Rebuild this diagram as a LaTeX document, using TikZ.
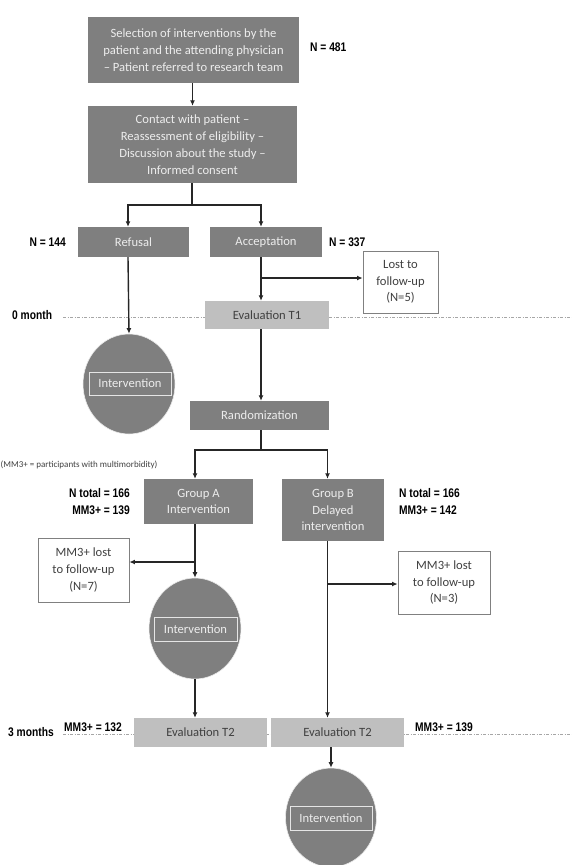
\documentclass[tikz,border=0pt]{standalone}
\usepackage{fontspec}
\setmainfont{Carlito}
\newfontfamily\nbold[FakeStretch=0.82]{Liberation Sans}
\usetikzlibrary{arrows.meta,shapes.geometric}
\definecolor{dg}{HTML}{7F7F7F}
\definecolor{lg}{HTML}{BFBFBF}
\definecolor{tw}{HTML}{EDEDED}
\definecolor{td}{HTML}{404040}
\definecolor{ln}{HTML}{A6A6A6}
\tikzset{
  dbox/.style={fill=dg, draw=none, text=tw, inner sep=0pt, align=center,
    font=\fontsize{12.6}{16.8}\selectfont},
  lbox/.style={fill=lg, draw=none, text=td, inner sep=0pt, align=center,
    font=\fontsize{12.6}{16.8}\selectfont},
  wbox/.style={fill=white, draw=gray, line width=0.9pt, text=td, inner sep=0pt, align=center,
    font=\fontsize{12.6}{16.8}\selectfont},
  circ/.style={ellipse, fill=dg, draw=white!85!dg, line width=0.6pt, inner sep=0pt},
  ibox/.style={draw=white!80!dg, line width=0.9pt, text=tw, inner sep=0pt,
    font=\fontsize{12.6}{14}\selectfont},
  lab/.style={inner sep=0pt, text=black, font=\nbold\bfseries\fontsize{12.5}{17}\selectfont, align=left},
  labr/.style={inner sep=0pt, text=black, font=\nbold\bfseries\fontsize{12.5}{17}\selectfont, align=right},
  arr/.style={-{Latex[length=5.5pt,width=5pt]}, line width=1.4pt, draw=black!85},
  ln/.style={line width=1.4pt, draw=black!85},
  tline/.style={draw=ln, line width=0.7pt, dash pattern=on 3pt off 1.5pt on 1pt off 1.5pt}
}
\begin{document}
\begin{tikzpicture}[x=1pt,y=-1pt]
\useasboundingbox (0,0) rectangle (572,865);

% time lines
\coordinate (t0s) at (63,317);
\coordinate (t0e) at (572,317);
\coordinate (t3s) at (63,734);
\coordinate (t3e) at (572,734);
\draw[tline] (t0s) -- (t0e);
\draw[tline] (t3s) -- (t3e);

% boxes
\node[dbox, minimum width=211pt, minimum height=66pt] (b1) at (193.5,50)
  {Selection of interventions by the\\patient and the attending physician\\– Patient referred to research team};
\node[dbox, minimum width=209pt, minimum height=77pt] (b2) at (192.5,144.5)
  {Contact with patient –\\Reassessment of eligibility –\\Discussion about the study –\\Informed consent};
\node[dbox, minimum width=111pt, minimum height=30pt] (ref) at (133.5,242) {Refusal};
\node[dbox, minimum width=112pt, minimum height=30pt] (acc) at (266,242) {Acceptation};
\node[wbox, minimum width=75pt, minimum height=62pt] (lost1) at (400.5,282) {Lost to\\follow-up\\(N=5)};
\node[lbox, minimum width=124pt, minimum height=28pt] (ev1) at (267,315) {Evaluation T1};
\node[circ, minimum width=92pt, minimum height=100pt] (c1) at (129,384) {};
\node[ibox, minimum width=82pt, minimum height=23pt] (i1) at (130,383.5) {Intervention};
\node[dbox, minimum width=139pt, minimum height=29pt] (rand) at (259.5,415.5) {Randomization};
\node[dbox, minimum width=109pt, minimum height=45pt] (ga) at (198.5,501.5) {Group A\\Intervention};
\node[dbox, minimum width=102pt, minimum height=62pt] (gb) at (333,510) {Group B\\Delayed\\intervention};
\node[wbox, minimum width=91pt, minimum height=64pt] (lostA) at (83.5,570) {MM3+ lost\\to follow-up\\(N=7)};
\node[wbox, minimum width=92pt, minimum height=63pt] (lostB) at (444,582.5) {MM3+ lost\\to follow-up\\(N=3)};
\node[circ, minimum width=92pt, minimum height=101pt] (c2) at (195,628.5) {};
\node[ibox, minimum width=83pt, minimum height=24pt] (i2) at (195.5,629) {Intervention};
\node[lbox, minimum width=133pt, minimum height=29pt] (evA) at (200.5,732.5) {Evaluation T2};
\node[lbox, minimum width=133pt, minimum height=29pt] (evB) at (337.5,732.5) {Evaluation T2};
\node[circ, minimum width=91pt, minimum height=99pt] (c3) at (331,817.5) {};
\node[ibox, minimum width=82pt, minimum height=24pt] (i3) at (331,818) {Intervention};

% labels
\node[lab, anchor=west] (n481) at (310,47) {N = 481};
\node[labr, anchor=east] (n144) at (66,242) {N = 144};
\node[lab, anchor=west] (n337) at (329,242) {N = 337};
\node[lab, anchor=west] (m0) at (12,315) {0 month};
\node[inner sep=0pt, anchor=west, text=td, font=\fontsize{9}{11}\selectfont] (note) at (0.5,465)
  {(MM3+ = participants with multimorbidity)};
\node[labr, anchor=east] (na) at (130,501.5) {N total = 166\\MM3+ = 139};
\node[lab, anchor=west] (nb) at (399,501.5) {N total = 166\\MM3+ = 142};
\node[lab, anchor=west] (m3) at (8,732) {3 months};
\node[lab, anchor=west] (ma) at (64,727) {MM3+ = 132};
\node[lab, anchor=west] (mb) at (415,727) {MM3+ = 139};

% connectors
\draw[arr] (b1.south -| b2.north) -- (b2.north);
\coordinate (s1) at (192,205);
\draw[ln] (b2.south -| s1) -- (s1);
\draw[arr] (s1) -| ([xshift=-5.5pt]ref.north);
\draw[arr] (s1) -| ([xshift=-5pt]acc.north);
\draw[arr] ([xshift=-5.5pt]ref.south) -- (c1.north);
\coordinate (j1) at (261,278);
\draw[arr] ([xshift=-5pt]acc.south) -- (ev1.north -| j1);
\draw[arr] (j1) -- (j1 -| lost1.west);
\draw[arr] (ev1.south -| j1) -- (rand.north -| j1);
\coordinate (s2) at (261,450);
\draw[ln] (rand.south -| s2) -- (s2);
\draw[arr] (s2) -| ([xshift=-3.5pt]ga.north);
\draw[arr] (s2) -| ([xshift=-5.5pt]gb.north);
\coordinate (j2) at (195,562);
\draw[arr] ([xshift=-3.5pt]ga.south) -- (c2.north);
\draw[arr] (j2) -- (j2 -| lostA.east);
\draw[arr] (c2.south) -- (evA.north -| c2.south);
\coordinate (j3) at (327.5,584);
\draw[arr] ([xshift=-5.5pt]gb.south) -- (evB.north -| j3);
\draw[arr] (j3) -- (j3 -| lostB.west);
\draw[arr] (evB.south -| c3.north) -- (c3.north);
\end{tikzpicture}
\end{document}
